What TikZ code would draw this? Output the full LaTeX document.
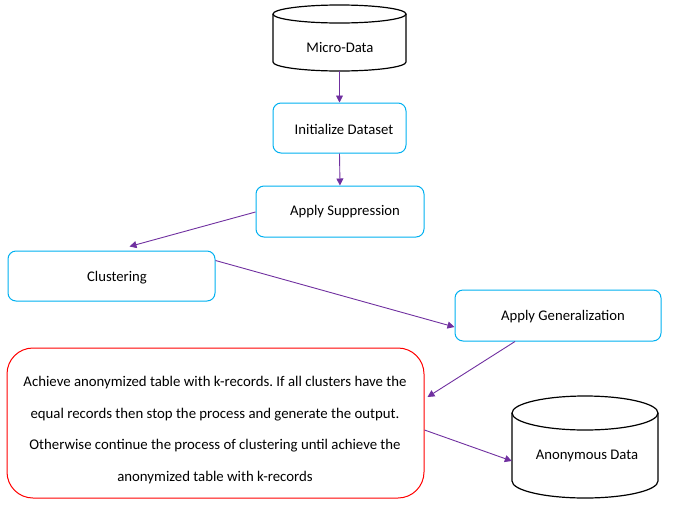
\documentclass[tikz,border=0pt]{standalone}
\usepackage{fontspec}
\setmainfont{Carlito}
\usetikzlibrary{arrows.meta}
\begin{document}
\frenchspacing
\begin{tikzpicture}[x=1pt,y=-1pt,
  every node/.style={font=\fontsize{14.7}{17}\selectfont,inner sep=0pt},
  blue box/.style={draw={rgb,255:red,0;green,176;blue,240},line width=1pt,rounded corners=8pt,rectangle},
  red box/.style={draw=red,line width=1pt,rounded corners=26pt,rectangle},
  db line/.style={draw=black,line width=1.2pt},
  flow/.style={draw={rgb,255:red,112;green,48;blue,160},line width=0.9pt,-{Triangle[width=7pt,length=7pt]}}]
\useasboundingbox (0,0) rectangle (695,509);
\draw [db line] (273,14) -- (273,62) arc [start angle=180,end angle=0,x radius=66.5,y radius=9] -- (406,14);
\draw [db line] (339.5,14) ellipse [x radius=66.5,y radius=9];
\node [minimum width=133pt,minimum height=66pt] (micro) at (339.5,38) {};
\node at (340,47) {Micro-Data};
\node [blue box,minimum width=133pt,minimum height=50pt] (init) at (339.5,128) {};
\node at (344,129) {Initialize Dataset};
\node [blue box,minimum width=168pt,minimum height=51pt] (supp) at (340,211.5) {};
\node at (345,212) {Apply Suppression};
\node [blue box,minimum width=207pt,minimum height=50pt] (clus) at (111.5,276) {};
\node at (117,278) {Clustering};
\node [blue box,minimum width=206pt,minimum height=51pt] (gen) at (558,315.5) {};
\node at (563,317) {Apply Generalization};
\node [red box,minimum width=417pt,minimum height=150pt] (achieve) at (215.5,423) {};
\node [align=center,font=\fontsize{14.8}{31.7}\selectfont] at (215,430) {Achieve anonymized table with k-records. If all clusters have the\\
 equal records then stop the process and generate the output.\\
 Otherwise continue the process of clustering until achieve the\\
anonymized table with k-records};
\draw [db line] (512,413) -- (512,481) arc [start angle=180,end angle=0,x radius=73,y radius=17] -- (658,413);
\draw [db line] (585,413) ellipse [x radius=73,y radius=17];
\node [minimum width=146pt,minimum height=102pt] (anon) at (585,447) {};
\node at (587,456) {Anonymous Data};
\draw [flow] (micro.south) -- (init.north);
\draw [flow] (init.south) -- (supp.north);
\draw [flow] ([yshift=-0.5pt]supp.west) -- ([xshift=18pt,yshift=4pt]clus.north);
\draw [flow] ([yshift=-10pt]clus.north east) -- ([yshift=-11.5pt]gen.west);
\draw [flow] ([xshift=-43pt]gen.south) -- ([xshift=3pt,yshift=26pt]achieve.east);
\draw [flow] ([yshift=-7pt]achieve.east) -- ([yshift=-14pt]anon.west);
\end{tikzpicture}
\end{document}
